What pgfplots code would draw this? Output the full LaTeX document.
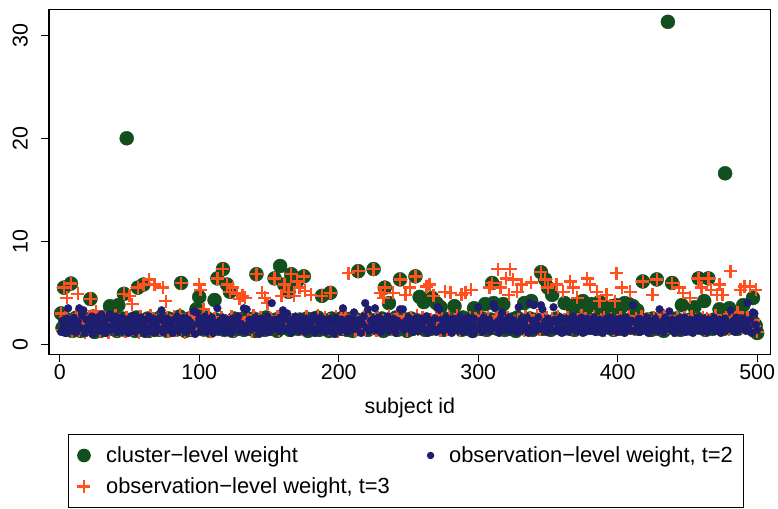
\documentclass[border=0pt]{standalone}
\usepackage{fontspec}
\setmainfont{Liberation Sans}
\usepackage{pgfplots}
\usepackage{pgfplotstable}
\pgfplotsset{compat=1.18}
\definecolor{cgreen}{RGB}{18,78,30}
\definecolor{cnavy}{RGB}{30,30,112}
\definecolor{corange}{RGB}{255,80,30}
\pgfplotsset{
  legwide/.style={legend image code/.code={\path (-6.5bp,0bp) (19.6bp,0bp); \draw[##1] plot coordinates {(0bp,0bp)};}},
  legnarrow/.style={legend image code/.code={\path (-10bp,0bp) (16bp,0bp); \draw[##1] plot coordinates {(0bp,0bp)};}},
}
\pgfplotstableread[row sep=\\]{
id cl o2 o3\\
1 3.0 1.2 3.0\\ 2 1.6 2.3 1.4\\ 3 5.5 1.8 5.5\\ 4 2.1 1.1 2.6\\ 5 1.4 2.5 4.5\\
6 2.4 3.5 1.9\\ 7 1.8 1.5 2.2\\ 8 5.9 2.0 5.9\\ 9 1.3 1.3 1.2\\ 10 2.2 2.6 2.4\\
11 1.7 1.9 1.6\\ 12 2.6 1.2 2.8\\ 13 1.5 2.2 4.9\\ 14 2.0 3.5 1.3\\ 15 1.3 1.6 2.0\\
16 2.5 2.8 1.7\\ 17 1.9 3.3 2.5\\ 18 1.4 1.1 1.1\\ 19 2.3 2.4 2.3\\ 20 1.6 1.7 1.5\\
21 2.1 2.1 2.7\\ 22 4.4 1.4 4.4\\ 23 1.5 2.7 1.8\\ 24 2.7 1.0 2.1\\ 25 1.2 2.3 1.3\\
26 2.0 1.8 3.2\\ 27 1.7 2.6 1.6\\ 28 2.4 1.3 2.4\\ 29 1.3 2.0 1.2\\ 30 2.2 2.9 2.0\\
31 1.8 1.5 1.9\\ 32 2.6 2.2 2.6\\ 33 1.4 1.1 1.4\\ 34 2.0 2.5 2.2\\ 35 1.6 1.7 1.1\\
36 3.7 2.9 2.5\\ 37 2.3 1.4 1.7\\ 38 1.5 2.4 2.3\\ 39 2.8 1.9 1.5\\ 40 1.9 2.7 2.8\\
41 1.3 1.2 1.3\\ 42 3.8 2.2 2.0\\ 43 2.1 1.6 2.4\\ 44 1.6 2.6 1.6\\ 45 2.5 1.3 2.1\\
46 4.9 2.0 4.9\\ 47 1.4 2.4 1.2\\ 48 20.0 1.8 2.6\\ 49 2.2 1.1 1.8\\ 50 1.7 2.5 4.7\\
51 2.4 1.5 2.2\\ 52 1.5 2.1 3.9\\ 53 2.0 2.8 1.4\\ 54 1.3 1.2 2.5\\ 55 2.6 1.9 1.9\\
56 5.5 2.3 5.5\\ 57 1.8 1.4 1.1\\ 58 2.3 2.6 2.7\\ 59 1.4 1.7 1.6\\ 60 5.8 2.2 5.8\\
61 2.1 1.0 2.3\\ 62 1.6 2.4 1.5\\ 63 2.5 1.6 2.0\\ 64 1.3 2.7 6.3\\ 65 2.0 1.3 2.8\\
66 1.7 2.0 1.3\\ 67 2.4 2.5 2.4\\ 68 1.5 1.1 5.8\\ 69 2.2 1.8 1.7\\ 70 1.9 2.3 2.1\\
71 1.4 1.5 2.5\\ 72 2.6 2.6 1.4\\ 73 1.8 3.3 2.2\\ 74 2.3 1.2 5.5\\ 75 1.5 2.1 1.8\\
76 2.0 1.7 4.2\\ 77 1.3 2.5 2.6\\ 78 2.5 1.4 1.2\\ 79 1.7 2.2 2.3\\ 80 2.1 1.9 1.6\\
81 1.6 1.1 2.0\\ 82 2.4 2.4 2.7\\ 83 1.4 1.6 1.3\\ 84 2.2 2.7 2.2\\ 85 1.8 1.3 1.7\\
86 2.7 2.0 2.9\\ 87 5.95 2.3 5.95\\ 88 1.5 1.5 1.5\\ 89 2.0 2.6 2.4\\ 90 1.3 1.2 1.1\\
91 2.3 1.8 2.1\\ 92 1.7 2.4 1.8\\ 93 2.5 1.4 2.6\\ 94 1.4 2.1 1.4\\ 95 2.1 1.7 2.3\\
96 1.6 3.2 1.9\\ 97 2.4 1.0 2.5\\ 98 3.4 3.1 1.6\\ 99 1.5 2.0 2.0\\ 100 4.6 2.5 5.8\\
101 2.0 1.3 5.3\\ 102 1.6 2.2 2.4\\ 103 2.3 1.6 3.4\\ 104 1.4 2.7 1.3\\ 105 2.6 1.2 2.2\\
106 1.8 1.9 1.7\\ 107 2.2 2.4 2.8\\ 108 1.3 1.5 1.2\\ 109 2.0 2.6 2.0\\ 110 1.7 1.1 1.6\\
111 4.3 2.1 2.5\\ 112 2.4 1.7 1.4\\ 113 6.4 3.5 6.4\\ 114 1.5 1.3 2.1\\ 115 2.2 2.3 1.8\\
116 1.9 1.6 2.6\\ 117 7.3 2.6 7.3\\ 118 1.4 1.2 1.5\\ 119 2.1 2.0 2.3\\ 120 5.8 2.4 5.8\\
121 1.6 1.4 1.9\\ 122 5.1 2.2 5.1\\ 123 2.0 1.1 2.7\\ 124 1.3 2.5 5.5\\ 125 2.5 1.8 1.3\\
126 1.8 2.3 2.2\\ 127 2.2 1.5 4.9\\ 128 1.5 2.7 1.7\\ 129 2.4 1.3 4.4\\ 130 1.7 2.0 2.4\\
131 2.0 1.6 4.7\\ 132 1.4 3.5 1.4\\ 133 2.6 1.2 4.5\\ 134 1.9 3.4 2.0\\ 135 2.3 1.9 2.6\\
136 1.5 2.4 1.6\\ 137 2.1 1.4 2.1\\ 138 1.7 2.1 1.2\\ 139 2.5 1.7 2.8\\ 140 1.3 2.6 1.8\\
141 6.8 1.5 6.8\\ 142 2.2 2.2 2.3\\ 143 1.6 1.0 1.5\\ 144 2.4 2.5 2.6\\ 145 1.8 1.8 5.0\\
146 2.0 1.3 1.9\\ 147 1.4 2.3 4.5\\ 148 2.6 1.6 2.2\\ 149 1.7 2.7 4.0\\ 150 2.3 1.2 1.4\\
151 1.5 2.0 2.5\\ 152 2.1 4.0 1.7\\ 153 1.8 1.5 2.1\\ 154 6.4 2.4 6.4\\ 155 2.4 1.7 1.6\\
156 1.3 2.2 2.7\\ 157 2.0 1.3 1.3\\ 158 7.6 2.6 2.4\\ 159 1.6 1.9 4.7\\ 160 2.5 3.3 2.0\\
161 5.8 1.4 5.8\\ 162 1.9 2.5 1.8\\ 163 2.2 3.0 2.6\\ 164 5.1 1.6 5.1\\ 165 1.4 2.2 1.5\\
166 6.8 1.1 6.8\\ 167 2.3 2.4 2.3\\ 168 1.7 1.8 4.7\\ 169 2.0 2.7 1.9\\ 170 6.1 1.5 6.1\\
171 1.5 2.1 2.4\\ 172 2.4 1.3 5.5\\ 173 1.8 2.6 1.4\\ 174 2.1 1.7 2.2\\ 175 6.6 2.3 6.6\\
176 1.6 1.2 5.2\\ 177 2.5 2.5 2.7\\ 178 1.3 1.9 1.6\\ 179 2.2 1.4 2.0\\ 180 1.9 2.2 4.8\\
181 2.4 1.6 1.8\\ 182 1.5 2.8 2.5\\ 183 2.0 1.1 1.3\\ 184 1.7 2.3 2.1\\ 185 2.6 1.5 2.8\\
186 1.4 2.0 1.7\\ 187 2.2 2.6 2.3\\ 188 4.7 1.3 4.7\\ 189 1.8 1.8 1.5\\ 190 2.3 2.4 2.6\\
191 1.6 1.2 2.0\\ 192 2.0 2.1 1.4\\ 193 1.3 1.7 2.4\\ 194 5.0 2.5 5.0\\ 195 2.5 1.4 1.9\\
196 1.7 2.2 2.2\\ 197 2.1 1.0 1.6\\ 198 1.4 2.6 2.7\\ 199 2.4 1.6 1.2\\ 200 1.8 2.0 2.3\\
201 2.2 1.3 1.8\\ 202 1.5 2.4 2.5\\ 203 2.6 3.5 1.5\\ 204 1.9 1.7 2.1\\ 205 2.0 2.2 2.8\\
206 1.4 1.2 1.4\\ 207 2.3 2.5 6.9\\ 208 1.7 1.9 2.0\\ 209 2.5 1.4 2.4\\ 210 1.3 2.6 1.7\\
211 2.1 3.1 2.2\\ 212 1.6 1.5 1.3\\ 213 2.4 2.1 2.6\\ 214 7.1 1.8 7.1\\ 215 1.8 2.4 1.9\\
216 2.2 1.1 2.3\\ 217 1.5 2.0 1.6\\ 218 2.0 2.7 2.7\\ 219 1.7 4.0 1.4\\ 220 2.6 1.6 2.1\\
221 1.4 3.4 2.5\\ 222 2.3 1.3 1.8\\ 223 1.9 2.3 2.2\\ 224 2.1 1.7 1.5\\ 225 7.3 2.5 7.3\\
226 1.6 3.5 2.4\\ 227 2.4 1.4 1.3\\ 228 1.5 2.0 2.6\\ 229 2.2 2.6 2.0\\ 230 1.8 1.2 5.0\\
231 2.5 2.2 1.7\\ 232 1.3 1.8 4.5\\ 233 5.5 2.4 5.5\\ 234 2.0 1.5 2.3\\ 235 1.7 2.7 1.6\\
236 4.0 1.3 2.8\\ 237 2.3 2.1 2.1\\ 238 1.5 1.6 1.4\\ 239 2.1 2.5 5.0\\ 240 1.9 1.9 2.4\\
241 2.6 1.1 1.9\\ 242 1.4 2.3 2.6\\ 243 2.2 1.7 1.5\\ 244 6.3 3.4 6.3\\ 245 1.8 2.0 2.2\\
246 2.0 3.4 1.8\\ 247 1.6 1.4 2.7\\ 248 2.4 2.2 4.8\\ 249 1.3 1.8 1.3\\ 250 2.1 2.6 2.0\\
251 1.7 1.5 5.5\\ 252 2.5 2.1 2.5\\ 253 1.5 1.2 1.6\\ 254 2.2 2.4 2.1\\ 255 6.6 1.7 6.6\\
256 1.9 2.6 2.8\\ 257 2.3 1.3 1.4\\ 258 4.6 2.0 2.3\\ 259 1.6 2.5 1.9\\ 260 2.1 1.6 2.6\\
261 4.1 2.2 1.7\\ 262 1.4 1.4 2.2\\ 263 2.4 2.7 5.6\\ 264 1.8 1.1 1.5\\ 265 2.0 2.3 5.8\\
266 1.5 1.8 2.4\\ 267 4.5 2.1 1.8\\ 268 2.2 1.5 4.7\\ 269 1.7 2.5 2.0\\ 270 4.0 1.2 2.7\\
271 2.3 3.6 1.6\\ 272 1.6 3.4 2.3\\ 273 3.6 1.7 1.3\\ 274 2.0 2.4 2.5\\ 275 1.4 1.3 1.9\\
276 2.5 2.0 5.1\\ 277 1.8 2.6 2.2\\ 278 2.1 1.5 1.4\\ 279 1.5 2.2 2.6\\ 280 2.4 1.8 5.0\\
281 1.7 1.1 2.1\\ 282 2.2 2.5 1.7\\ 283 3.7 1.6 2.4\\ 284 1.9 2.3 1.5\\ 285 2.3 1.4 2.8\\
286 1.6 2.1 2.0\\ 287 2.0 2.7 1.3\\ 288 1.4 1.7 4.8\\ 289 2.6 1.2 2.3\\ 290 1.8 2.4 1.8\\
291 2.1 1.9 5.0\\ 292 1.5 1.3 2.2\\ 293 2.4 2.6 1.6\\ 294 1.7 1.6 2.6\\ 295 2.2 2.2 5.3\\
296 1.3 1.0 1.4\\ 297 3.5 2.5 2.1\\ 298 1.9 1.8 2.5\\ 299 2.3 1.4 1.8\\ 300 1.6 3.6 2.3\\
301 2.0 1.7 1.5\\ 302 1.5 2.3 2.7\\ 303 2.5 1.2 2.0\\ 304 1.8 2.6 1.3\\ 305 3.9 1.5 2.4\\
306 1.4 2.1 1.9\\ 307 2.2 1.8 2.6\\ 308 1.7 2.4 5.5\\ 309 2.4 1.3 1.6\\ 310 5.95 2.0 5.95\\
311 4.0 3.9 2.2\\ 312 1.6 3.5 1.7\\ 313 2.1 1.6 2.5\\ 314 1.5 2.2 7.3\\ 315 2.3 1.1 2.0\\
316 1.8 2.5 5.5\\ 317 2.5 3.1 1.4\\ 318 3.9 1.7 2.3\\ 319 1.4 2.3 1.8\\ 320 2.0 1.4 6.4\\
321 1.7 2.0 2.6\\ 322 2.2 2.6 4.8\\ 323 1.5 1.3 7.3\\ 324 2.4 1.9 1.9\\ 325 1.9 2.4 6.3\\
326 2.1 1.5 2.2\\ 327 1.3 2.1 1.5\\ 328 2.6 1.2 5.1\\ 329 1.6 3.6 2.4\\ 330 2.0 1.8 1.7\\
331 1.8 2.5 5.8\\ 332 2.3 1.4 2.1\\ 333 4.0 2.2 1.3\\ 334 1.5 1.7 2.7\\ 335 2.2 2.6 2.0\\
336 1.7 1.1 1.6\\ 337 2.5 4.0 2.5\\ 338 4.2 1.6 6.0\\ 339 1.4 2.3 1.8\\ 340 2.1 3.8 2.3\\
341 1.9 1.3 1.5\\ 342 2.4 2.0 2.8\\ 343 1.6 2.6 2.1\\ 344 2.0 1.5 1.4\\ 345 7.0 3.8 7.0\\
346 1.5 3.4 2.4\\ 347 2.3 1.8 1.9\\ 348 6.3 2.2 6.3\\ 349 1.8 1.2 2.6\\ 350 5.5 2.5 5.5\\
351 2.1 1.6 1.7\\ 352 1.4 2.1 2.2\\ 353 4.8 1.4 2.5\\ 354 2.2 3.6 1.6\\ 355 1.7 2.4 2.0\\
356 2.5 1.3 5.8\\ 357 1.9 2.0 2.7\\ 358 2.3 1.7 1.4\\ 359 1.6 2.6 2.3\\ 360 2.0 1.1 1.8\\
361 1.5 2.3 5.1\\ 362 4.0 1.5 2.4\\ 363 2.2 2.5 1.6\\ 364 1.8 1.8 2.6\\ 365 2.4 1.2 2.1\\
366 1.6 2.2 6.1\\ 367 3.7 1.6 1.5\\ 368 2.1 2.7 5.5\\ 369 1.4 1.4 2.2\\ 370 2.6 2.0 1.9\\
371 1.9 1.3 4.5\\ 372 3.9 2.4 2.4\\ 373 1.7 1.7 1.7\\ 374 2.3 2.6 2.8\\ 375 4.2 1.1 2.0\\
376 1.5 2.1 1.4\\ 377 2.2 1.5 2.5\\ 378 3.6 2.5 6.4\\ 379 1.8 1.9 1.8\\ 380 2.4 1.3 5.8\\
381 3.9 2.3 2.3\\ 382 1.6 1.6 1.6\\ 383 2.1 2.6 2.7\\ 384 3.8 1.2 2.1\\ 385 1.5 2.0 5.1\\
386 2.5 1.5 1.5\\ 387 4.1 2.4 4.2\\ 388 1.7 1.8 2.4\\ 389 2.2 1.1 1.9\\ 390 3.4 2.2 2.6\\
391 1.9 1.7 1.3\\ 392 2.3 2.5 4.8\\ 393 3.6 1.4 2.2\\ 394 1.6 2.0 1.7\\ 395 2.0 2.6 2.5\\
396 3.7 1.3 2.0\\ 397 1.4 2.1 1.4\\ 398 2.4 1.6 4.2\\ 399 3.8 2.4 6.9\\ 400 1.8 1.2 2.3\\
401 2.1 1.9 1.8\\ 402 3.5 2.5 2.6\\ 403 1.5 1.5 5.5\\ 404 2.3 2.2 2.0\\ 405 4.0 1.1 1.5\\
406 1.7 2.6 2.4\\ 407 2.2 1.7 1.9\\ 408 3.9 2.0 2.7\\ 409 1.6 1.4 5.1\\ 410 2.5 2.3 1.6\\
411 3.7 3.8 2.2\\ 412 1.9 1.3 1.4\\ 413 2.2 2.1 2.5\\ 414 3.3 1.6 1.8\\ 415 1.5 2.5 2.3\\
416 2.0 1.2 1.5\\ 417 1.7 2.4 2.7\\ 418 6.1 1.8 6.1\\ 419 2.3 2.2 1.9\\ 420 1.6 1.5 2.2\\
421 2.4 2.6 1.6\\ 422 1.8 1.1 2.4\\ 423 2.1 2.0 2.0\\ 424 1.4 1.7 1.4\\ 425 2.5 2.3 4.8\\
426 1.7 1.4 2.6\\ 427 2.2 2.5 1.7\\ 428 6.3 1.9 6.3\\ 429 1.5 1.3 2.1\\ 430 2.0 3.4 2.5\\
431 1.8 1.6 1.5\\ 432 2.4 2.2 2.2\\ 433 1.3 1.2 2.8\\ 434 2.2 2.6 1.8\\ 435 1.6 1.5 2.4\\
436 31.3 2.1 1.6\\ 437 2.1 3.2 2.0\\ 438 1.7 1.4 2.7\\ 439 5.95 2.4 5.95\\ 440 2.3 1.8 1.3\\
441 1.5 1.1 2.2\\ 442 2.5 2.3 1.9\\ 443 1.9 1.6 2.5\\ 444 2.1 2.5 5.5\\ 445 1.4 1.3 1.6\\
446 3.8 2.0 2.1\\ 447 1.8 1.7 5.0\\ 448 2.3 2.6 2.6\\ 449 1.6 1.2 1.4\\ 450 2.0 2.1 2.3\\
451 1.7 1.5 1.8\\ 452 2.4 2.4 4.5\\ 453 1.5 1.8 2.7\\ 454 2.2 1.1 2.0\\ 455 3.6 2.3 1.5\\
456 1.8 1.6 2.4\\ 457 2.5 2.6 2.2\\ 458 6.4 1.4 6.4\\ 459 1.6 2.0 1.7\\ 460 2.1 1.3 5.5\\
461 1.9 2.5 2.6\\ 462 4.2 1.7 2.0\\ 463 1.4 2.2 1.4\\ 464 2.3 1.2 2.5\\ 465 6.4 2.4 6.4\\
466 1.7 1.5 1.9\\ 467 2.2 2.1 5.3\\ 468 1.5 1.8 2.3\\ 469 2.4 2.6 1.6\\ 470 1.8 1.3 2.8\\
471 2.1 2.0 4.8\\ 472 1.6 1.6 2.1\\ 473 3.4 2.4 5.8\\ 474 1.9 1.1 1.5\\ 475 2.3 2.2 4.8\\
476 1.5 1.7 2.4\\ 477 16.6 2.5 1.8\\ 478 2.0 1.4 2.6\\ 479 1.7 2.1 2.0\\ 480 3.5 1.8 1.4\\
481 2.2 3.3 7.1\\ 482 1.6 1.5 2.3\\ 483 2.4 2.3 1.7\\ 484 1.9 1.2 2.5\\ 485 2.6 2.6 2.0\\
486 1.5 1.9 3.1\\ 487 2.1 1.4 2.2\\ 488 1.8 2.2 5.3\\ 489 2.5 1.6 1.6\\ 490 3.8 2.5 2.4\\
491 1.7 2.0 5.6\\ 492 2.3 1.3 1.9\\ 493 1.9 4.0 2.6\\ 494 2.2 1.7 2.1\\ 495 1.6 2.4 5.6\\
496 2.4 1.1 1.5\\ 497 4.5 3.1 2.3\\ 498 2.0 3.0 1.8\\ 499 1.8 1.9 5.3\\ 500 1.1 1.4 1.2\\
}\wdata
\begin{document}
\begin{tikzpicture}
\begin{axis}[
  scale only axis,
  width=721.7bp, height=345bp,
  xmin=-7.7, xmax=509.7, ymin=-0.97, ymax=32.52,
  xtick={0,100,200,300,400,500}, ytick={0,10,20,30},
  xtick pos=bottom, ytick pos=left,
  tick align=outside, major tick length=8bp,
  every tick/.style={black, line width=1.2bp},
  axis line style={black, line width=1.3bp},
  /pgf/number format/assume math mode=true,
  ticklabel style={font=\fontsize{21.5}{24}\selectfont},
  yticklabel style={xshift=-13bp, rotate=90, anchor=south, inner sep=0pt},
  xticklabel style={inner sep=0pt, yshift=-2bp},
  xlabel={subject id},
  xlabel style={font=\fontsize{21.5}{24}\selectfont, inner sep=0pt, yshift=-18bp},
  legend columns=2,
  legend cell align=left,
  legend style={
    at={(axis description cs:0.0263,-0.231)}, anchor=north west,
    draw=black, line width=1bp, inner xsep=8.5bp, inner ysep=6bp,
    font=\fontsize{22}{26}\selectfont,
    nodes={inner xsep=2bp, inner ysep=3bp, text height=19.5bp, text depth=4.5bp},
    row sep=1bp,
    /tikz/every even column/.append style={column sep=28.1bp},
  },
]
\addlegendimage{only marks, mark=*, mark size=6.3bp, color=cgreen, legwide}
\addlegendentry{cluster−level weight}
\addlegendimage{only marks, mark=*, mark size=3.2bp, color=cnavy, legnarrow}
\addlegendentry{observation−level weight, t=2}
\addlegendimage{only marks, mark=+, mark size=6.5bp, color=corange, mark options={line width=2.4bp}, legwide}
\addlegendentry{observation−level weight, t=3}

\addplot[only marks, mark=*, mark size=7bp, color=cgreen, forget plot] table[x=id, y=cl]{\wdata};
\addplot[only marks, mark=+, mark size=6.5bp, color=corange, mark options={line width=2.4bp}, forget plot] table[x=id, y=o3]{\wdata};
\addplot[only marks, mark=*, mark size=3.9bp, color=cnavy, forget plot] table[x=id, y=o2]{\wdata};

\coordinate (bbA) at (axis description cs:-0.0679,1.02696);
\coordinate (bbB) at (axis description cs:1.0101,-0.4484);
\end{axis}
\path (bbA) rectangle (bbB);
\end{tikzpicture}
\end{document}
